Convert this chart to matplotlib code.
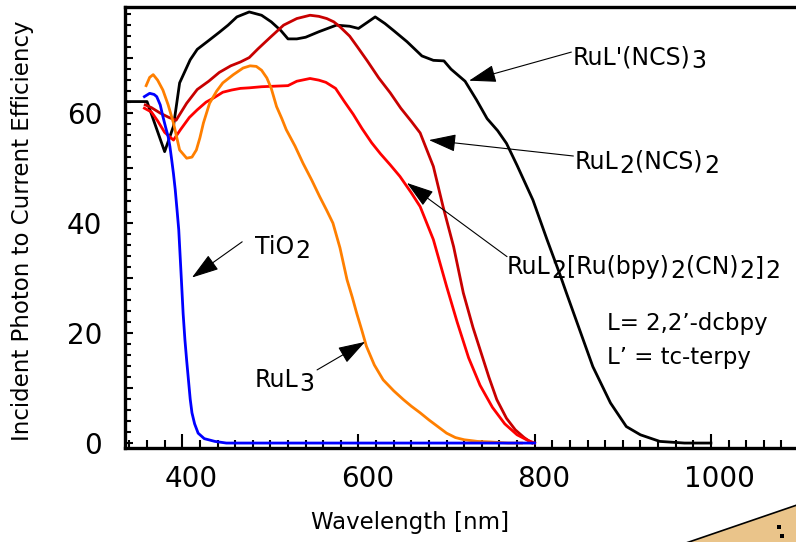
import matplotlib
matplotlib.use("Agg")
import matplotlib.pyplot as plt
from matplotlib.patches import Polygon
from matplotlib.ticker import MultipleLocator, FixedLocator, FuncFormatter

plt.rcParams['font.family'] = ['DejaVu Sans']

# ---- IPCE spectra (wavelength in nm, efficiency in %) ----
wl_ruL3ncs = [335, 360, 380, 390, 397, 409, 417, 430, 442, 452, 462, 476, 490, 501, 512,
              520, 530, 540, 555, 575, 590, 600, 610, 619, 630, 640, 655, 672, 685, 697,
              705, 721, 734, 746, 758, 768, 780, 798, 814, 829, 836, 851, 866, 886, 904,
              920, 942, 970, 1000]
ipce_ruL3ncs = [62.1, 62.1, 53.0, 57.6, 65.5, 69.7, 71.6, 73.2, 74.7, 76.0, 77.5, 78.4, 77.8,
                76.6, 75.0, 73.5, 73.5, 73.8, 74.8, 76.0, 75.8, 75.4, 76.5, 77.5, 76.3, 75.0,
                73.0, 70.4, 69.6, 69.5, 68.0, 65.8, 62.4, 59.0, 56.8, 54.5, 50.5, 44.2, 37.0,
                30.5, 27.3, 20.6, 13.9, 7.3, 3.0, 1.5, 0.3, 0.0, 0.0]

wl_ruL2ncs = [358, 365, 375, 385, 393, 405, 417, 430, 442, 455, 466, 476, 486, 500, 515,
              530, 545, 555, 564, 572, 579, 590, 599, 610, 623, 636, 648, 660, 670, 685,
              696, 708, 719, 730, 738, 748, 757, 768, 778, 788, 797]
ipce_ruL2ncs = [61.5, 61.0, 60.0, 59.2, 58.7, 61.8, 64.3, 65.8, 67.4, 68.6, 69.3, 70.1, 71.7,
                73.8, 76.0, 77.2, 77.8, 77.6, 77.2, 76.6, 75.7, 74.0, 72.0, 69.5, 66.4, 63.7,
                60.9, 58.5, 56.4, 50.3, 43.0, 35.7, 27.3, 21.0, 17.0, 12.0, 7.9, 4.5, 2.4,
                1.0, 0.0]

wl_ruL2cn = [357, 365, 372, 380, 390, 398, 408, 417, 427, 436, 446, 456, 466, 476, 490,
             505, 520, 530, 545, 555, 563, 574, 584, 594, 604, 615, 625, 636, 647, 660,
             670, 685, 700, 712, 725, 738, 752, 766, 780, 792, 800]
ipce_ruL2cn = [60.9, 60.2, 58.6, 56.5, 55.1, 57.0, 59.2, 60.6, 62.0, 62.8, 63.8, 64.2, 64.5,
               64.6, 64.8, 64.9, 65.0, 65.8, 66.3, 66.0, 65.6, 64.5, 62.1, 59.8, 57.2, 54.6,
               52.6, 50.6, 48.5, 45.5, 43.0, 37.0, 28.5, 22.0, 15.5, 10.5, 6.5, 3.5, 1.5,
               0.5, 0.0]

wl_ruL3 = [359, 363, 367, 372, 378, 384, 390, 397, 405, 411, 416, 420, 424, 431, 439, 446,
           458, 469, 477, 484, 490, 496, 501, 507, 513, 518, 528, 537, 547, 556, 564, 571,
           579, 587, 593, 598, 604, 609, 618, 628, 640, 651, 660, 670, 680, 690, 700, 710,
           720, 735, 750, 770, 785]
ipce_ruL3 = [65.0, 66.5, 67.0, 66.0, 64.2, 61.5, 58.2, 53.3, 51.8, 52.0, 53.3, 55.5, 58.2,
             61.8, 64.0, 65.5, 67.0, 68.2, 68.6, 68.5, 67.8, 66.4, 64.5, 61.2, 59.0, 57.0,
             54.0, 50.9, 47.8, 44.8, 42.3, 40.0, 35.5, 29.7, 26.5, 23.6, 20.4, 17.6, 14.2,
             11.5, 9.5, 7.9, 6.7, 5.5, 4.2, 3.0, 1.8, 1.0, 0.6, 0.3, 0.2, 0.0, 0.0]

wl_tio2 = [357, 363, 368, 371, 375, 378, 381, 384, 386, 388, 390, 392, 394, 396, 399, 401,
           403, 405, 407, 409, 411, 414, 418, 425, 437, 450, 800]
ipce_tio2 = [63.0, 63.6, 63.4, 63.0, 61.5, 59.4, 57.5, 55.7, 53.9, 51.5, 49.0, 46.1, 42.5,
             38.8, 29.7, 23.5, 18.8, 15.0, 11.5, 8.0, 5.5, 3.5, 1.8, 0.8, 0.3, 0.0, 0.0]

x_ticks = [400, 600, 800, 1000]
y_ticks = [0, 20, 40, 60]

# ---- figure / axes geometry (pixels) ----
W, H, DPI = 796, 542, 100
X_MIN, X_MAX = 335, 1100
Y_MIN, Y_MAX = -0.9, 79.3
fig = plt.figure(figsize=(W / DPI, H / DPI), dpi=DPI)
fig.patch.set_facecolor('white')
ax_left, ax_bottom, ax_w, ax_h = 125, 94, 674, 441
ax = fig.add_axes([ax_left / W, ax_bottom / H, ax_w / W, ax_h / H])
ax.set_xlim(X_MIN, X_MAX)
ax.set_ylim(Y_MIN, Y_MAX)

lw = 2.0
ax.plot(wl_ruL3ncs, ipce_ruL3ncs, color='#000000', lw=lw, zorder=3)
ax.plot(wl_ruL2ncs, ipce_ruL2ncs, color='#C80000', lw=lw, zorder=3)
ax.plot(wl_ruL2cn, ipce_ruL2cn, color='#FF0000', lw=lw, zorder=3)
ax.plot(wl_ruL3, ipce_ruL3, color='#FF7F00', lw=lw, zorder=3)
ax.plot(wl_tio2, ipce_tio2, color='#0000FF', lw=lw, zorder=4)

# ---- frame and ticks ----
for side in ('left', 'bottom', 'top'):
    ax.spines[side].set_linewidth(2.4)
ax.spines['right'].set_visible(False)

ax.xaxis.set_major_locator(FixedLocator(x_ticks))
ax.xaxis.set_minor_locator(MultipleLocator(20))
ax.yaxis.set_major_locator(MultipleLocator(10))
ax.yaxis.set_minor_locator(MultipleLocator(2))
ax.yaxis.set_major_formatter(FuncFormatter(lambda v, p: f"{int(round(v))}" if int(round(v)) in y_ticks else ""))

ax.tick_params(axis='x', which='major', direction='in', length=10, width=1.5, labelbottom=False)
ax.tick_params(axis='x', which='minor', direction='in', length=5.5, width=1.5)
ax.tick_params(axis='y', which='major', direction='in', length=6, width=1.5, labelsize=20, pad=16.5)
ax.tick_params(axis='y', which='minor', direction='in', length=4.3, width=1.5)
ax.tick_params(top=False, right=False, which='both')

# wavelength labels sit a little to the right of their ticks
for t in x_ticks:
    ax.annotate(f"{t}", xy=(t, 0), xycoords=ax.get_xaxis_transform(),
                xytext=(6.5, -12.5), textcoords='offset points',
                ha='center', va='top', fontsize=20)

ax.set_xlabel('Wavelength [nm]', fontsize=16.5)
ax.xaxis.set_label_coords((410 - ax_left) / ax_w, -(523 - (H - ax_bottom)) / ax_h)
ax.set_ylabel('Incident Photon to Current Efficiency', fontsize=16.5)
ax.yaxis.set_label_coords(-(125 - 23) / ax_w, (H - ax_bottom - 231) / ax_h)
ax.yaxis.label.set_va('center')
ax.xaxis.label.set_va('center')


def chem_label(x, y, parts, size=17, drop=3.0):
    """Write a formula piece by piece; subscript pieces are full size but lowered."""
    prev = None
    prev_dy = 0.0
    for text, sub in parts:
        dy = -drop if sub else 0.0
        if prev is None:
            prev = ax.annotate(text, xy=(x, y), xycoords='data', xytext=(0, dy),
                               textcoords='offset points', ha='left', va='bottom',
                               fontsize=size, zorder=6)
        else:
            prev = ax.annotate(text, xy=(1, 0), xycoords=prev, xytext=(0.6, dy - prev_dy),
                               textcoords='offset points', ha='left', va='bottom',
                               fontsize=size, zorder=6)
        prev_dy = dy


def pointer(start, tip):
    ax.annotate('', xy=tip, xytext=start, xycoords='data', textcoords='data',
                arrowprops=dict(arrowstyle='-|>,head_length=1.7,head_width=0.55',
                                mutation_scale=10, lw=0.8, color='black',
                                shrinkA=0, shrinkB=0), zorder=6)


chem_label(843.6, 68.0, [("RuL'(NCS)", False), ("3", True)])
pointer((841.6, 71.1), (725.5, 65.9))

chem_label(845.8, 49.0, [("RuL", False), ("2", True), ("(NCS)", False), ("2", True)])
pointer((843.9, 52.2), (680.0, 55.1))

chem_label(768.6, 29.9, [("RuL", False), ("2", True), ("[Ru(bpy)", False), ("2", True),
                         ("(CN)", False), ("2", True), ("]", False), ("2", True)])
pointer((768.6, 33.9), (655.0, 47.3))

chem_label(482.6, 33.5, [("TiO", False), ("2", True)])
pointer((468.0, 36.6), (411.0, 30.1))

chem_label(482.6, 9.3, [("RuL", False), ("3", True)])
pointer((553.0, 13.3), (607.5, 18.4))

ax.text(882, 19.6, "L= 2,2\u2019-dcbpy", fontsize=16.5, ha='left', va='bottom', zorder=6)
ax.text(882, 13.4, "L\u2019 = tc-terpy", fontsize=16.5, ha='left', va='bottom', zorder=6)

# ---- folded paper corner at the lower right ----
def fp(px, py):
    return (px / W, 1 - py / H)

corner = Polygon([fp(686, 543), fp(797, 505), fp(797, 543)], closed=True,
                 transform=fig.transFigure, facecolor='#EAC48A', edgecolor='black',
                 linewidth=1.2, zorder=10)
fig.patches.append(corner)
for (px, py) in [(779, 527), (782, 536)]:
    fig.patches.append(Polygon([fp(px - 2, py - 2), fp(px + 2, py - 2), fp(px + 2, py + 2),
                                fp(px - 2, py + 2)], closed=True, transform=fig.transFigure,
                               facecolor='black', edgecolor='none', zorder=11))

fig.savefig('out.png', dpi=DPI)
